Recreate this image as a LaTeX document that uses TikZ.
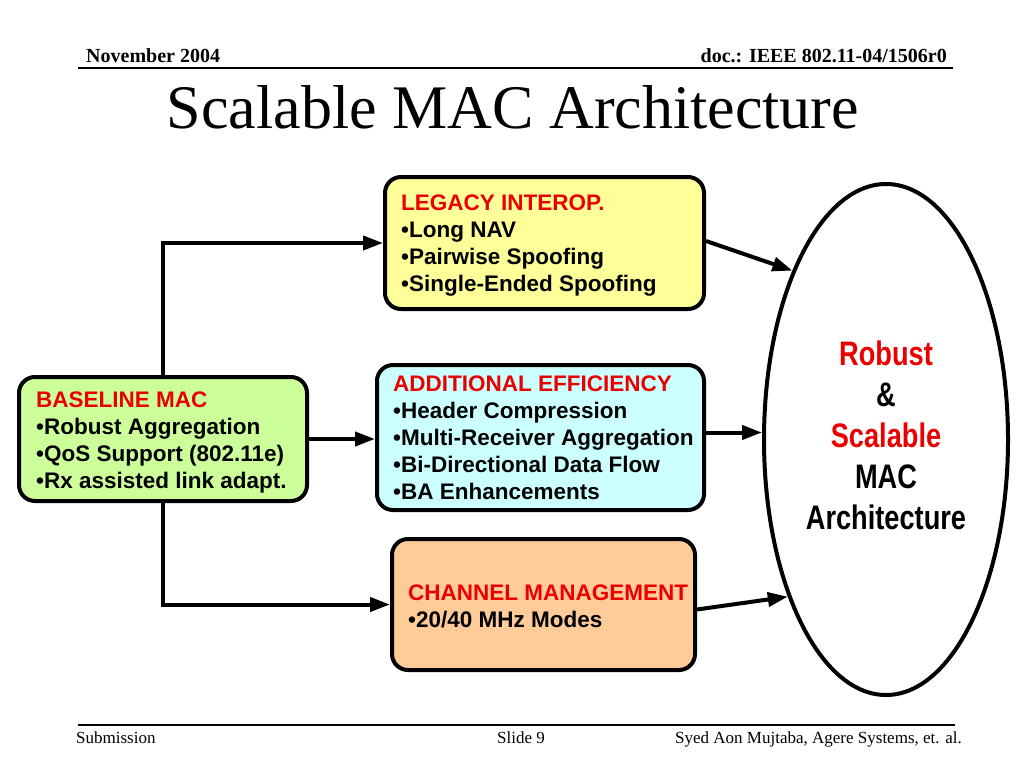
\documentclass[tikz,border=0pt]{standalone}
\usepackage{fontspec}
\setmainfont{Liberation Serif}
\setsansfont{Liberation Sans}
\newfontfamily\archfont[FakeStretch=0.8]{Liberation Sans}
\usetikzlibrary{arrows.meta,shapes.geometric}

\definecolor{legacyfill}{RGB}{255,255,153}
\definecolor{efffill}{RGB}{204,255,255}
\definecolor{chanfill}{RGB}{255,204,153}
\definecolor{basefill}{RGB}{204,255,153}
\definecolor{headred}{RGB}{235,0,0}

\begin{document}
\begin{tikzpicture}[x=1pt, y=-1pt,
  featbox/.style={draw, line width=4pt, rounded corners=16pt, inner sep=0pt},
  feattext/.style={align=left, inner sep=0pt, anchor=west,
    font=\sffamily\bfseries\fontsize{22.5}{27}\selectfont},
  flow/.style={line width=4pt, -{Triangle[length=20pt,width=14pt]}},
  hdr/.style={font=\bfseries\fontsize{20}{24}\selectfont, inner sep=0pt},
  ftr/.style={font=\fontsize{17}{20}\selectfont, inner sep=0pt}]
  \useasboundingbox[fill=white] (0,0) rectangle (1024,768);

  % Header
  \node[hdr, anchor=base west] (month) at (86,63) {November 2004};
  \node[hdr, anchor=base east] (docno) at (947,63) {doc.: IEEE 802.11-04/1506r0};
  \draw[line width=2pt] (78,68) -- (953,68);
  \node[font=\fontsize{62}{70}\selectfont, anchor=base, inner sep=0pt] (title) at (513,128) {Scalable MAC Architecture};

  % Feature boxes
  \node[featbox, fill=legacyfill, minimum width=319pt, minimum height=132pt] (legacy) at (544.5,243) {};
  \node[feattext] (legacytxt) at ([xshift=18pt,yshift=-3pt]legacy.west)
    {\textcolor{headred}{LEGACY INTEROP.}\\•Long NAV\\•Pairwise Spoofing\\•Single-Ended Spoofing};

  \node[featbox, fill=efffill, minimum width=327pt, minimum height=145pt] (eff) at (540.5,437.5) {};
  \node[feattext] (efftxt) at ([xshift=18pt]eff.west)
    {\textcolor{headred}{ADDITIONAL EFFICIENCY}\\•Header Compression\\•Multi-Receiver Aggregation\\•Bi-Directional Data Flow\\•BA Enhancements};

  \node[featbox, fill=chanfill, minimum width=303pt, minimum height=131pt] (chan) at (543.5,604.5) {};
  \node[feattext] (chantxt) at ([xshift=18pt,yshift=-2pt]chan.west)
    {\textcolor{headred}{CHANNEL MANAGEMENT}\\•20/40 MHz Modes};

  \node[featbox, fill=basefill, minimum width=288pt, minimum height=124pt] (base) at (163,439) {};
  \node[feattext] (basetxt) at ([xshift=19pt,yshift=-3pt]base.west)
    {\textcolor{headred}{BASELINE MAC}\\•Robust Aggregation\\•QoS Support (802.11e)\\•Rx assisted link adapt.};

  % Target
  \node[draw, ellipse, line width=4pt, minimum width=244pt, minimum height=511pt, inner sep=0pt,
    align=center, font=\archfont\bfseries\fontsize{34}{41}\selectfont] (arch) at (886,439.5)
    {\textcolor{headred}{Robust}\\\&\\\textcolor{headred}{Scalable}\\MAC\\Architecture\rule[-8pt]{0pt}{8pt}};

  % Connectors
  \draw[flow] (base.east) -- (base.east -| eff.west);
  \draw[flow] (base.north) |- (legacy.west);
  \draw[flow] (base.south) |- (chan.west);
  \draw[flow] ([yshift=2pt]legacy.east) -- (arch.119);
  \draw[flow] ([yshift=5pt]eff.east) -- ([yshift=5pt]eff.east -| arch.west);
  \draw[flow] ([yshift=-5pt]chan.east) -- (arch.238);

  % Footer
  \draw[line width=2pt] (78,725) -- (955,725);
  \node[ftr, anchor=base west] (submission) at (76,743) {Submission};
  \node[ftr, anchor=base] (slideno) at (521,743) {Slide 9};
  \node[ftr, anchor=base east] (authors) at (962,743) {Syed Aon Mujtaba, Agere Systems, et. al.};
\end{tikzpicture}
\end{document}
